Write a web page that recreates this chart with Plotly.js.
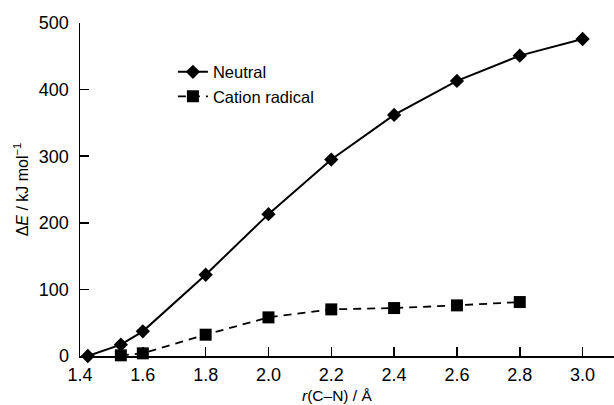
<!DOCTYPE html>
<html>
<head>
<meta charset="utf-8">
<script src="https://cdn.plot.ly/plotly-3.0.1.min.js"></script>
<style>html,body{margin:0;padding:0;background:#fff;}#chart{width:614px;height:405px;}</style>
</head>
<body>
<div id="chart"></div>
<script>
const neutralX = [1.425, 1.53, 1.6, 1.8, 2.0, 2.2, 2.4, 2.6, 2.8, 3.0];
const neutralY = [0, 17, 37, 122, 213, 295, 362, 413, 451, 476];
const cationX = [1.53, 1.6, 1.8, 2.0, 2.2, 2.4, 2.6, 2.8];
const cationY = [1, 4, 32, 58, 70, 72, 76, 81];
const xTicks = [1.4, 1.6, 1.8, 2.0, 2.2, 2.4, 2.6, 2.8, 3.0];
const xTickText = ['1.4', '1.6', '1.8', '2.0', '2.2', '2.4', '2.6', '2.8', '3.0'];
const yTicks = [0, 100, 200, 300, 400, 500];

const FONT = 'Liberation Sans, Arial, Helvetica, sans-serif';

const traces = [
  {
    x: neutralX, y: neutralY, name: 'Neutral', type: 'scatter', mode: 'lines+markers',
    line: {color: '#000', width: 2},
    marker: {symbol: 'diamond', size: 11, color: '#000'},
    cliponaxis: false
  },
  {
    x: cationX, y: cationY, name: 'Cation radical', type: 'scatter', mode: 'lines+markers',
    line: {color: '#000', width: 1.8, dash: '8px,6px'},
    marker: {symbol: 'square', size: 12, color: '#000'},
    cliponaxis: false
  }
];

const layout = {
  width: 614, height: 405,
  margin: {l: 80, r: 0, t: 23, b: 49},
  paper_bgcolor: '#fff', plot_bgcolor: '#fff',
  font: {family: FONT, size: 18, color: '#000'},
  showlegend: true,
  legend: {
    x: 0.174, y: 0.905, xanchor: 'left', yanchor: 'top',
    bgcolor: 'rgba(0,0,0,0)', font: {size: 16.5, family: FONT},
    tracegroupgap: 0
  },
  xaxis: {
    range: [1.4, 3.1], tickvals: xTicks, ticktext: xTickText,
    ticks: 'inside', ticklen: 9, tickwidth: 1.5, tickcolor: '#000',
    showline: true, linecolor: '#000', linewidth: 1.5,
    showgrid: false, zeroline: false,
    tickfont: {size: 18, family: FONT},
    ticklabelstandoff: 2
  },
  yaxis: {
    range: [0, 500], tickvals: yTicks,
    ticks: 'inside', ticklen: 9, tickwidth: 1.5, tickcolor: '#000',
    showline: true, linecolor: '#000', linewidth: 1.5,
    showgrid: false, zeroline: false,
    tickfont: {size: 18, family: FONT},
    ticklabelstandoff: 6,
    title: {text: 'Δ<i>E</i> / kJ mol<sup>−1</sup>', font: {size: 16, family: FONT}, standoff: 6}
  },
  annotations: [
    {
      xref: 'paper', yref: 'paper', x: 0.481, y: 0, yshift: -39,
      xanchor: 'center', yanchor: 'middle', showarrow: false,
      text: '<i>r</i>(C–N) / Å', font: {size: 15.5, family: FONT}
    }
  ]
};

Plotly.newPlot('chart', traces, layout, {displayModeBar: false, staticPlot: true});
</script>
</body>
</html>
